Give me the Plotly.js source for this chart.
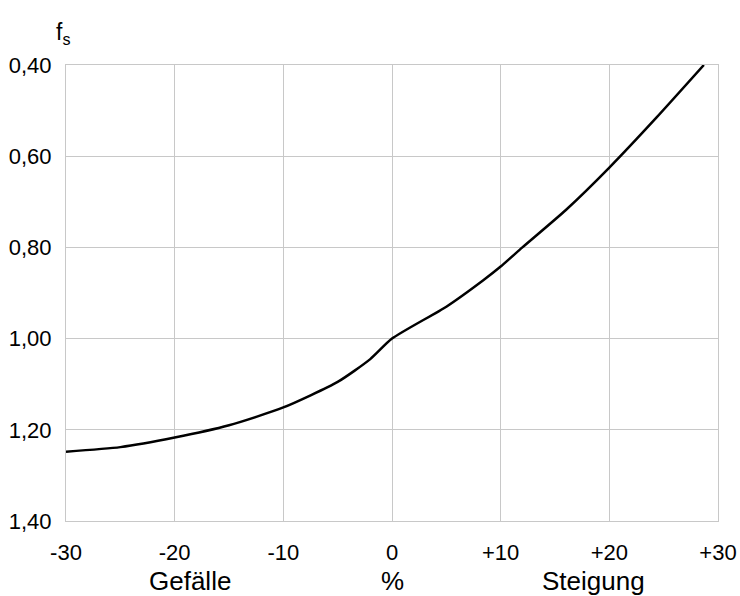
<!DOCTYPE html>
<html>
<head>
<meta charset="utf-8">
<script src="https://cdn.plot.ly/plotly-3.0.1.min.js"></script>
<style>html,body{margin:0;padding:0;background:#fff;}#chart{width:740px;height:596px;}</style>
</head>
<body>
<div id="chart"></div>
<script>
const gradient = [-30, -25, -20, -15, -10, -5, -2, 0, 5, 8.4, 10, 12, 16, 20, 24.35, 28.7];
const fs = [1.248, 1.238, 1.217, 1.190, 1.151, 1.095, 1.045, 1.0, 0.930, 0.872, 0.842, 0.80, 0.718, 0.625, 0.515, 0.40];
const xTickVals = [-30, -20, -10, 0, 10, 20, 30];
const xTickText = ["-30", "-20", "-10", "0", "+10", "+20", "+30"];
const yTickVals = [0.4, 0.6, 0.8, 1.0, 1.2, 1.4];
const yTickText = ["0,40", "0,60", "0,80", "1,00", "1,20", "1,40"];

const font = "Liberation Sans, Arial, Helvetica, sans-serif";
const grid = "#c8c8c8";

Plotly.newPlot("chart", [{
  x: gradient, y: fs, type: "scatter", mode: "lines",
  line: {color: "#000", width: 2.5, shape: "spline", smoothing: 0.6},
  hoverinfo: "skip"
}], {
  width: 740, height: 596,
  margin: {l: 66, r: 22, t: 65, b: 75},
  paper_bgcolor: "#fff", plot_bgcolor: "#fff",
  showlegend: false,
  font: {family: font, color: "#000", size: 22},
  xaxis: {
    range: [-30, 30], tickvals: xTickVals, ticktext: xTickText,
    showgrid: true, gridcolor: grid, gridwidth: 1,
    showline: true, mirror: true, linecolor: grid, linewidth: 1,
    zeroline: false, ticks: "", ticklabelstandoff: 12,
    tickfont: {family: font, size: 22, color: "#000"}
  },
  yaxis: {
    range: [1.4, 0.4], tickvals: yTickVals, ticktext: yTickText,
    showgrid: true, gridcolor: grid, gridwidth: 1,
    showline: true, mirror: true, linecolor: grid, linewidth: 1,
    zeroline: false, ticks: "", ticklabelstandoff: 9,
    tickfont: {family: font, size: 22, color: "#000"}
  },
  annotations: [
    {text: "f<sub>s</sub>", xref: "paper", yref: "paper", x: -0.004, y: 1.0, yshift: 32, xanchor: "center", yanchor: "middle", showarrow: false, font: {family: font, size: 23, color: "#000"}},
    {text: "Gefälle", xref: "paper", yref: "paper", x: (190 - 66) / 652, y: 0, yshift: -60, xanchor: "center", yanchor: "middle", showarrow: false, font: {family: font, size: 26, color: "#000"}},
    {text: "%", xref: "paper", yref: "paper", x: 0.5, y: 0, yshift: -60, xanchor: "center", yanchor: "middle", showarrow: false, font: {family: font, size: 26, color: "#000"}},
    {text: "Steigung", xref: "paper", yref: "paper", x: (593 - 66) / 652, y: 0, yshift: -60, xanchor: "center", yanchor: "middle", showarrow: false, font: {family: font, size: 26, color: "#000"}}
  ]
}, {staticPlot: true, displayModeBar: false});
</script>
</body>
</html>
